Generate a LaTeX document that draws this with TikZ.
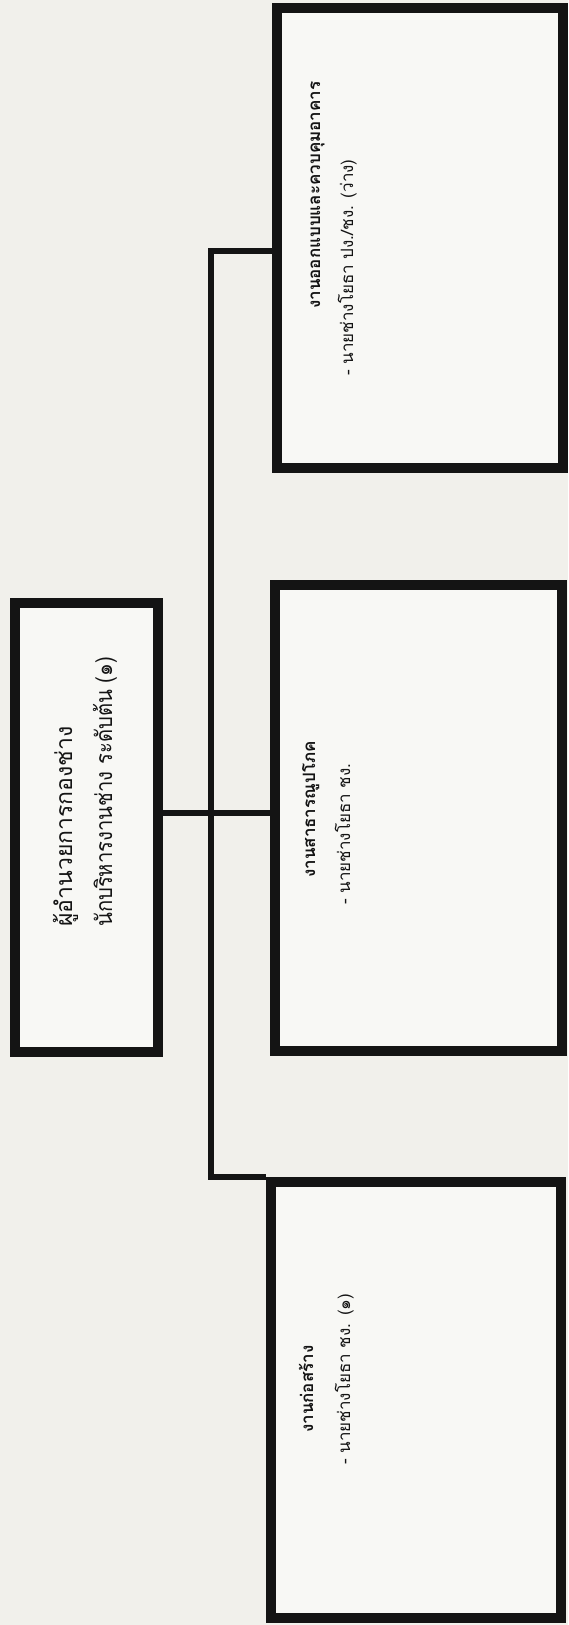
\documentclass[tikz,border=0pt]{standalone}
\usepackage{fontspec}
\newfontfamily\thai[Script=Thai]{Loma}
\newfontfamily\thainarrow[Script=Thai, FakeStretch=0.88]{Loma}
\definecolor{paper}{HTML}{F1F0EB}
\definecolor{boxfill}{HTML}{F8F8F5}
\definecolor{ink}{HTML}{141414}
\tikzset{
  orgbox/.style={draw=ink, line width=10.5pt, fill=boxfill, rectangle, inner sep=0pt},
  link/.style={draw=ink, line width=6pt},
  dirtxt/.style={font=\thai\fontsize{23}{28}\selectfont, text=ink, inner sep=0pt, rotate=90, anchor=base west},
  dirtxtn/.style={font=\thainarrow\fontsize{23}{28}\selectfont, text=ink, inner sep=0pt, rotate=90, anchor=base west},
  titletxt/.style={font=\thai\bfseries\fontsize{17}{20}\selectfont, text=ink, inner sep=0pt, rotate=90, anchor=base west},
  subtxt/.style={font=\thai\fontsize{17}{20}\selectfont, text=ink, inner sep=0pt, rotate=90, anchor=base west}
}
\begin{document}
\begin{tikzpicture}[x=1pt,y=-1pt]
\fill[paper] (0,0) rectangle (568,1625);
\useasboundingbox (0,0) rectangle (568,1625);
% boxes
\node[orgbox, minimum width=143pt, minimum height=449pt] (dir) at (86.5,827.5) {};
\node[orgbox, minimum width=286pt, minimum height=460pt] (boxA) at (420,238) {};
\node[orgbox, minimum width=287pt, minimum height=466pt] (boxB) at (418.5,818) {};
\node[orgbox, minimum width=290pt, minimum height=436pt] (boxC) at (416,1400) {};
% connectors
\coordinate (jA) at (211,251);
\coordinate (jB) at (211,813);
\coordinate (jC) at (211,1177);
\draw[link] (boxA.west |- jA) -- (jA) -- (jC) -- (jC -| boxC.west);
\draw[link] (dir.east |- jB) -- (boxB.west |- jB);
% texts
\node[dirtxt] (dirL1) at (72,927) {ผู้อำนวยการกองช่าง};
\node[dirtxtn] (dirL2) at (112,927) {นักบริหารงานช่าง ระดับต้น (๑)};
\node[titletxt] (aT) at (320,309) {งานออกแบบและควบคุมอาคาร};
\node[subtxt] (aS) at (353,376) {- นายช่างโยธา ปง./ชง. (ว่าง)};
\node[titletxt] (bT) at (315,878) {งานสาธารณูปโภค};
\node[subtxt] (bS) at (350,905) {- นายช่างโยธา ชง.};
\node[titletxt] (cT) at (313,1433) {งานก่อสร้าง};
\node[subtxt] (cS) at (350,1465) {- นายช่างโยธา ชง. (๑)};
\end{tikzpicture}
\end{document}
